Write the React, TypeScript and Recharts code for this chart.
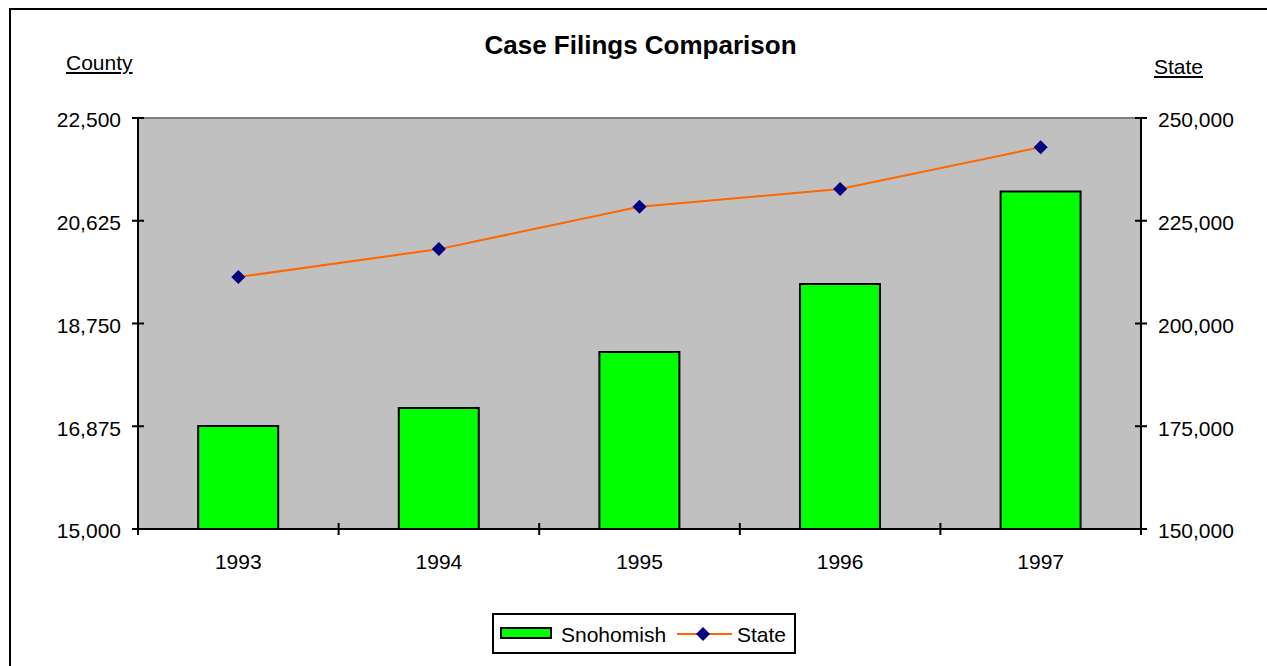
import {
  ComposedChart,
  Bar,
  Line,
  XAxis,
  YAxis,
  CartesianGrid,
  ReferenceLine,
} from "recharts";

const years = ["1993", "1994", "1995", "1996", "1997"];
const snohomish = [16880, 17210, 18230, 19470, 21160];
const state = [211300, 218100, 228400, 232700, 242900];

const countyTicks = [15000, 16875, 18750, 20625, 22500];
const stateTicks = [150000, 175000, 200000, 225000, 250000];
const boundaryTicks = [0, 1, 2, 3, 4, 5];

const font = "'Liberation Sans', Arial, sans-serif";

const data = years.map((year, i) => ({
  year,
  pos: i + 0.5,
  Snohomish: snohomish[i],
  State: state[i],
}));

const fmt = (v: number) => v.toLocaleString("en-US");

const LeftTick = (props: any) => {
  const { x, y, payload } = props;
  return (
    <g>
      <line x1={x - 6} x2={x + 6} y1={y} y2={y} stroke="#000" strokeWidth={2} />
      <text x={x - 17} y={y + 2} dy="0.355em" textAnchor="end" fontSize={21} fontFamily={font} fill="#000">
        {fmt(payload.value)}
      </text>
    </g>
  );
};

const RightTick = (props: any) => {
  const { x, y, payload } = props;
  return (
    <g>
      <line x1={x - 6} x2={x + 6} y1={y} y2={y} stroke="#000" strokeWidth={2} />
      <text x={x + 17} y={y + 2} dy="0.355em" textAnchor="start" fontSize={21} fontFamily={font} fill="#000">
        {fmt(payload.value)}
      </text>
    </g>
  );
};

const BoundaryTick = (props: any) => {
  const { x, y } = props;
  return <line x1={x} x2={x} y1={y - 6} y2={y + 6} stroke="#000" strokeWidth={2} />;
};

const Diamond = (props: any) => {
  const { cx, cy, index } = props;
  if (cx == null || cy == null) return <g key={index} />;
  const r = 7;
  return (
    <polygon
      key={index}
      points={`${cx},${cy - r} ${cx + r},${cy} ${cx},${cy + r} ${cx - r},${cy}`}
      fill="#000080"
    />
  );
};

export default function App() {
  return (
    <div
      style={{
        position: "absolute",
        left: 0,
        top: 0,
        width: 1267,
        height: 666,
        overflow: "hidden",
        background: "#fff",
        fontFamily: font,
      }}
    >
      <div
        style={{
          position: "absolute",
          left: 9,
          top: 8,
          width: 1400,
          height: 800,
          border: "2px solid #000",
        }}
      />
      <ComposedChart
        width={1267}
        height={666}
        data={data}
        margin={{ top: 118, right: 46, bottom: 97, left: 58 }}
        barCategoryGap="30%"
        style={{ position: "absolute", left: 0, top: 0 }}
      >
        <CartesianGrid
          xAxisId="axisB"
          yAxisId="left"
          horizontal={false}
          vertical={false}
          fill="#C0C0C0"
          fillOpacity={1}
        />
        <XAxis
          xAxisId="axisA"
          dataKey="pos"
          type="number"
          domain={[0, 5]}
          ticks={boundaryTicks}
          allowDataOverflow
          height={1}
          axisLine={{ stroke: "#000", strokeWidth: 2 }}
          tickLine={false}
          tickSize={0}
          tickMargin={0}
          tick={<BoundaryTick />}
          interval={0}
        />
        <XAxis
          xAxisId="axisB"
          dataKey="year"
          height={39}
          axisLine={false}
          tickLine={false}
          tickSize={0}
          tickMargin={24}
          tick={{ fontSize: 21, fill: "#000", fontFamily: font }}
          interval={0}
        />
        <YAxis
          yAxisId="left"
          orientation="left"
          width={80}
          domain={[15000, 22500]}
          ticks={countyTicks}
          interval={0}
          axisLine={{ stroke: "#000", strokeWidth: 2 }}
          tickLine={false}
          tickSize={0}
          tickMargin={0}
          tick={<LeftTick />}
        />
        <YAxis
          yAxisId="right"
          orientation="right"
          width={80}
          domain={[150000, 250000]}
          ticks={stateTicks}
          interval={0}
          axisLine={{ stroke: "#000", strokeWidth: 2 }}
          tickLine={false}
          tickSize={0}
          tickMargin={0}
          tick={<RightTick />}
        />
        <ReferenceLine xAxisId="axisB" yAxisId="left" y={22500} stroke="#808080" strokeWidth={2} />
        <Bar
          xAxisId="axisB"
          yAxisId="left"
          dataKey="Snohomish"
          fill="#00FF00"
          stroke="#000"
          strokeWidth={2}
          isAnimationActive={false}
        />
        <Line
          xAxisId="axisB"
          yAxisId="right"
          dataKey="State"
          type="linear"
          stroke="#FF6600"
          strokeWidth={2}
          dot={<Diamond />}
          activeDot={false}
          isAnimationActive={false}
        />
      </ComposedChart>

      <div
        style={{
          position: "absolute",
          left: 0,
          width: 1281,
          top: 31.6,
          textAlign: "center",
          fontSize: 26,
          fontWeight: "bold",
          lineHeight: 1,
          whiteSpace: "nowrap",
        }}
      >
        Case Filings Comparison
      </div>
      <div
        style={{
          position: "absolute",
          left: 66,
          top: 52,
          fontSize: 21,
          lineHeight: 1,
          textDecoration: "underline",
        }}
      >
        County
      </div>
      <div
        style={{
          position: "absolute",
          left: 1154,
          top: 56,
          fontSize: 21,
          lineHeight: 1,
          textDecoration: "underline",
        }}
      >
        State
      </div>

      <div
        style={{
          position: "absolute",
          left: 492,
          top: 613,
          width: 304,
          height: 41,
          boxSizing: "border-box",
          border: "2px solid #000",
          background: "#fff",
        }}
      >
        <div
          style={{
            position: "absolute",
            left: 6,
            top: 12,
            width: 52,
            height: 12,
            boxSizing: "border-box",
            background: "#00FF00",
            border: "2px solid #000",
          }}
        />
        <div style={{ position: "absolute", left: 67, top: 9, fontSize: 21, lineHeight: 1 }}>
          Snohomish
        </div>
        <svg style={{ position: "absolute", left: 181, top: 11 }} width={58} height={16}>
          <line x1={2} x2={57} y1={8} y2={8} stroke="#FF6600" strokeWidth={2} />
          <polygon points="28,1 35,8 28,15 21,8" fill="#000080" />
        </svg>
        <div style={{ position: "absolute", left: 243, top: 9, fontSize: 21, lineHeight: 1 }}>
          State
        </div>
      </div>
    </div>
  );
}
